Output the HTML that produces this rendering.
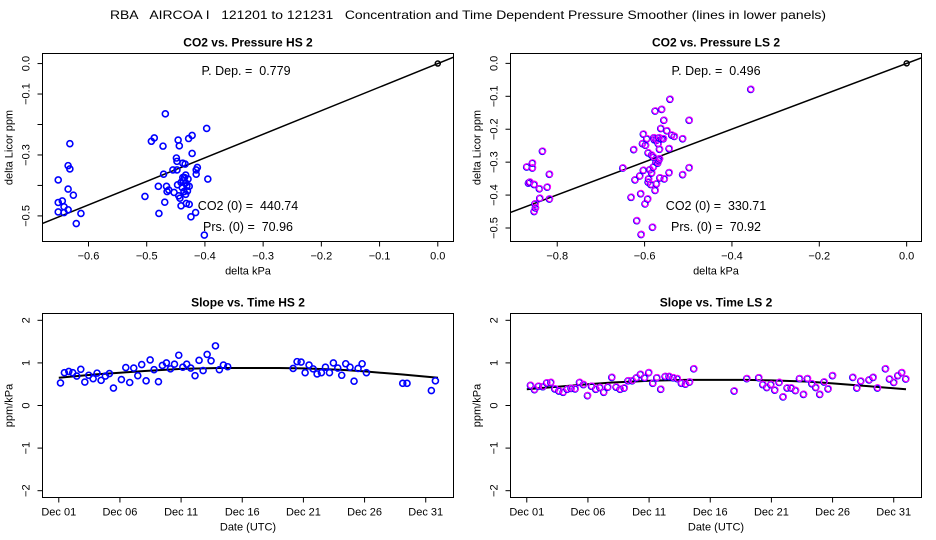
<!DOCTYPE html>
<html><head><meta charset="utf-8"><style>
html,body{margin:0;padding:0;background:#fff;}
svg{display:block;font-family:"Liberation Sans",sans-serif;white-space:pre;}
</style></head><body>
<svg id="chart" width="936" height="540" viewBox="0 0 936 540" xmlns="http://www.w3.org/2000/svg">
<rect width="936" height="540" fill="#fff"/>
<text x="468" y="19" text-anchor="middle" font-size="12" textLength="716" lengthAdjust="spacingAndGlyphs">RBA&#160;&#160; AIRCOA I&#160;&#160; 121201 to 121231&#160;&#160; Concentration and Time Dependent Pressure Smoother (lines in lower panels)</text>
</svg>
<script>
// ---- Data: HS scatter ----
const hsX = [-0.652,-0.652,-0.652,-0.645,-0.642,-0.642,-0.635,-0.635,-0.635,-0.632,-0.632,-0.626,-0.621,-0.613,-0.503,-0.492,-0.487,-0.480,-0.479,-0.472,-0.471,-0.469,-0.468,-0.466,-0.465,-0.462,-0.455,-0.453,-0.449,-0.448,-0.448,-0.447,-0.446,-0.445,-0.444,-0.443,-0.441,-0.441,-0.438,-0.438,-0.436,-0.435,-0.434,-0.433,-0.433,-0.432,-0.431,-0.430,-0.429,-0.428,-0.427,-0.427,-0.424,-0.422,-0.422,-0.416,-0.415,-0.415,-0.413,-0.401,-0.397,-0.395,-0.439,-0.437,-0.433];
const hsY = [-0.382,-0.456,-0.487,-0.451,-0.470,-0.489,-0.480,-0.412,-0.335,-0.346,-0.263,-0.432,-0.525,-0.492,-0.436,-0.255,-0.244,-0.403,-0.492,-0.271,-0.363,-0.455,-0.165,-0.403,-0.420,-0.415,-0.349,-0.423,-0.310,-0.321,-0.349,-0.398,-0.251,-0.434,-0.270,-0.442,-0.467,-0.390,-0.327,-0.374,-0.420,-0.374,-0.330,-0.366,-0.429,-0.459,-0.402,-0.418,-0.379,-0.246,-0.403,-0.462,-0.503,-0.236,-0.295,-0.489,-0.363,-0.349,-0.341,-0.563,-0.213,-0.379,-0.407,-0.385,-0.392];
const hsSlope = [0.773];
// ---- Data: LS scatter ----
const lsX = [-0.870,-0.866,-0.863,-0.857,-0.857,-0.853,-0.853,-0.851,-0.850,-0.841,-0.840,-0.834,-0.823,-0.818,-0.818,-0.650,-0.631,-0.625,-0.622,-0.618,-0.609,-0.608,-0.611,-0.605,-0.603,-0.603,-0.599,-0.598,-0.595,-0.593,-0.592,-0.591,-0.588,-0.586,-0.584,-0.582,-0.580,-0.579,-0.578,-0.576,-0.576,-0.574,-0.573,-0.573,-0.570,-0.569,-0.568,-0.567,-0.566,-0.565,-0.563,-0.561,-0.561,-0.557,-0.556,-0.555,-0.549,-0.544,-0.544,-0.542,-0.538,-0.532,-0.513,-0.513,-0.498,-0.498,-0.357,-0.592,-0.584,-0.580,-0.566];
const lsY = [-0.315,-0.364,-0.361,-0.318,-0.303,-0.368,-0.450,-0.427,-0.439,-0.381,-0.410,-0.267,-0.376,-0.337,-0.412,-0.318,-0.407,-0.262,-0.354,-0.478,-0.396,-0.520,-0.342,-0.244,-0.325,-0.215,-0.427,-0.249,-0.229,-0.412,-0.361,-0.351,-0.323,-0.368,-0.333,-0.498,-0.315,-0.226,-0.232,-0.386,-0.145,-0.300,-0.366,-0.234,-0.303,-0.244,-0.295,-0.226,-0.261,-0.348,-0.198,-0.140,-0.229,-0.229,-0.173,-0.351,-0.205,-0.259,-0.332,-0.109,-0.218,-0.222,-0.338,-0.229,-0.173,-0.317,-0.079,-0.272,-0.279,-0.285,-0.290];
const lsSlope = [0.499];
// ---- Data: HS time series ----
const hsDay = [1.14,1.46,1.82,2.14,2.47,2.80,3.13,3.45,3.81,4.13,4.46,4.81,5.14,5.47,6.12,6.48,6.80,7.13,7.46,7.78,8.14,8.47,8.79,9.15,9.47,9.80,10.13,10.46,10.81,11.14,11.46,11.79,12.14,12.47,12.80,13.13,13.45,13.81,14.13,14.46,14.81,20.16,20.48,20.81,21.14,21.46,21.79,22.12,22.47,22.80,23.13,23.45,23.81,24.13,24.46,24.81,25.14,25.47,25.80,26.15,29.12,29.47,31.46,31.79];
const hsSlopeVal = [0.53,0.77,0.80,0.77,0.69,0.85,0.55,0.71,0.63,0.76,0.59,0.69,0.75,0.41,0.61,0.89,0.54,0.88,0.70,0.96,0.58,1.07,0.84,0.56,0.94,1.00,0.86,0.97,1.18,0.90,0.97,0.88,0.70,1.06,0.82,1.20,1.05,1.40,0.84,0.95,0.91,0.87,1.03,1.02,0.77,0.95,0.86,0.74,0.77,0.90,0.77,1.00,0.88,0.71,0.98,0.90,0.57,0.87,0.98,0.77,0.52,0.52,0.35,0.58];
const hsSmDay = [1,4,6,8,11,14,16,19,21,24,26,29,32];
const hsSmVal = [0.65,0.73,0.77,0.81,0.86,0.88,0.88,0.88,0.87,0.84,0.80,0.73,0.65];
// ---- Data: LS time series ----
const lsDay = [1.30,1.63,1.95,2.31,2.63,2.96,3.29,3.62,3.97,4.30,4.62,4.95,5.31,5.63,5.96,6.29,6.64,6.97,7.29,7.62,7.95,8.30,8.63,8.96,9.28,9.61,9.96,10.29,10.62,10.97,11.30,11.63,11.95,12.31,12.63,12.96,13.29,13.64,13.97,14.30,14.65,17.95,18.98,19.96,20.29,20.62,20.95,21.27,21.63,21.95,22.28,22.61,22.96,23.29,23.62,23.94,24.30,24.62,24.95,25.30,25.63,25.99,27.65,27.98,28.30,28.98,29.31,29.66,30.32,30.65,31.00,31.33,31.65,31.98];
const lsSlopeVal = [0.47,0.37,0.45,0.44,0.53,0.54,0.39,0.34,0.31,0.38,0.40,0.39,0.54,0.49,0.23,0.45,0.38,0.42,0.31,0.43,0.66,0.43,0.38,0.41,0.58,0.58,0.65,0.73,0.65,0.77,0.52,0.65,0.38,0.68,0.68,0.65,0.63,0.52,0.50,0.55,0.86,0.34,0.63,0.65,0.49,0.42,0.49,0.36,0.54,0.20,0.41,0.41,0.35,0.63,0.26,0.63,0.51,0.42,0.26,0.55,0.39,0.70,0.66,0.41,0.57,0.60,0.66,0.41,0.86,0.62,0.54,0.70,0.77,0.62];
const lsSmDay = [1,4,6,8,11,14,16,19,21,24,26,29,32];
const lsSmVal = [0.38,0.45,0.50,0.54,0.58,0.60,0.60,0.60,0.59,0.56,0.52,0.45,0.38];

const NS='http://www.w3.org/2000/svg';
const svg=document.getElementById('chart');
function el(tag,attrs,parent){const e=document.createElementNS(NS,tag);for(const k in attrs)e.setAttribute(k,attrs[k]);(parent||svg).appendChild(e);return e;}
function lin(d0,d1,r0,r1){return v=>r0+(v-d0)*(r1-r0)/(d1-d0);}

function panel(o){
  const g=el('g',{});
  
  
  const X=lin(o.xd[0],o.xd[1],o.box[0],o.box[2]);
  const Y=lin(o.yd[0],o.yd[1],o.box[3],o.box[1]);
  const t=el('text',{x:(o.box[0]+o.box[2])/2,y:o.box[1]-7,'text-anchor':'middle','font-size':12,'font-weight':'bold'},g);
  t.textContent=o.title;
  
  
  const clip='c'+o.id;
  const cp=el('clipPath',{id:clip},g);
  el('rect',{x:o.box[0],y:o.box[1],width:o.box[2]-o.box[0],height:o.box[3]-o.box[1]},cp);
  o.xt.forEach((v,i)=>{const x=X(v);
    el('line',{x1:x,x2:x,y1:o.box[3],y2:o.box[3]+5,stroke:'#000','stroke-width':1},g);
    const lt=el('text',{x:x,y:o.box[3]+18,'text-anchor':'middle','font-size':11},g);
    lt.textContent=o.xl[i];
    
    
  });
  o.yt.forEach((v,i)=>{const y=Y(v);
    el('line',{x1:o.box[0]-5,x2:o.box[0],y1:y,y2:y,stroke:'#000','stroke-width':1},g);
    if(o.yl[i]!==''){
      const lt=el('text',{x:o.box[0]-13,y:y,'text-anchor':'middle','font-size':11,transform:`rotate(-90 ${o.box[0]-13} ${y})`},g);
      lt.textContent=o.yl[i];
      
      
    }
  });
  const xa=el('text',{x:(o.box[0]+o.box[2])/2,y:o.box[3]+33,'text-anchor':'middle','font-size':11},g);
  xa.textContent=o.xlab;
  
  
  const yc=(o.box[1]+o.box[3])/2, yx=o.box[0]-30;
  const ya=el('text',{x:yx,y:yc,'text-anchor':'middle','font-size':11,transform:`rotate(-90 ${yx} ${yc})`},g);
  ya.textContent=o.ylab;
  
  
  const pg=el('g',{'clip-path':`url(#${clip})`},g);
  if(o.lineSlope){
    const s=o.lineSlope[0];
    const ln=el('line',{x1:X(o.xd[0]),y1:Y(s*o.xd[0]),x2:X(o.xd[1]),y2:Y(s*o.xd[1]),stroke:'#000','stroke-width':1.5},pg);
    
    
    const oc=el('circle',{cx:X(0),cy:Y(0),r:2.5,fill:'none',stroke:'#000','stroke-width':1.5},pg);
    
    
  }
  if(o.smX){
    const d=o.smX.map((v,i)=>(i?'L':'M')+X(v).toFixed(1)+','+Y(o.smY[i]).toFixed(1)).join(' ');
    const p=el('path',{d:d,fill:'none',stroke:'#000','stroke-width':2},pg);
    
    
  }
  o.px.forEach((v,i)=>{
    const c=el('circle',{cx:X(v),cy:Y(o.py[i]),r:3,fill:'none',stroke:'#0000ff','stroke-width':1.6},pg);
    
    
    if(o.magenta){
      const c2=el('circle',{cx:X(v)+0.4,cy:Y(o.py[i])-0.4,r:3,fill:'none',stroke:'#ff00ff','stroke-width':1.1},pg);
      
      
    }
  });
  (o.notes||[]).forEach(n=>{
    const nt=el('text',{x:n[0],y:n[1],'text-anchor':'middle','font-size':12.5},g);
    nt.textContent=n[2];
    
    
  });
  const fr=el('rect',{x:o.box[0],y:o.box[1],width:o.box[2]-o.box[0],height:o.box[3]-o.box[1],fill:'none',stroke:'#000','stroke-width':1},g);
  
  
}

panel({id:1,name:'panel-co2-pressure-hs',title:'CO2 vs. Pressure HS 2',box:[42.5,53.5,453.5,241.5],
  xd:[-0.679,0.027],yd:[-0.584,0.033],
  xt:[-0.6,-0.5,-0.4,-0.3,-0.2,-0.1,0],xl:['\u22120.6','\u22120.5','\u22120.4','\u22120.3','\u22120.2','\u22120.1','0.0'],
  yt:[0,-0.1,-0.2,-0.3,-0.4,-0.5],yl:['0.0','\u22120.1','','\u22120.3','','\u22120.5'],
  xlab:'delta kPa',ylab:'delta Licor ppm',px:hsX,py:hsY,lineSlope:hsSlope,
  notes:[[246,75,'P. Dep. =\u00a0 0.779'],[248,210,'CO2 (0) =\u00a0 440.74'],[248,231,'Prs. (0) =\u00a0 70.96']]});
panel({id:2,name:'panel-co2-pressure-ls',title:'CO2 vs. Pressure LS 2',box:[510.5,53.5,921.5,241.5],
  xd:[-0.907,0.034],yd:[-0.541,0.030],
  xt:[-0.8,-0.6,-0.4,-0.2,0],xl:['\u22120.8','\u22120.6','\u22120.4','\u22120.2','0.0'],
  yt:[0,-0.1,-0.2,-0.3,-0.4,-0.5],yl:['0.0','\u22120.1','\u22120.2','\u22120.3','\u22120.4','\u22120.5'],
  xlab:'delta kPa',ylab:'delta Licor ppm',px:lsX,py:lsY,lineSlope:lsSlope,magenta:true,
  notes:[[716,75,'P. Dep. =\u00a0 0.496'],[716,210,'CO2 (0) =\u00a0 330.71'],[716,231,'Prs. (0) =\u00a0 70.92']]});
const dayT=[1,6,11,16,21,26,31], dayL=['Dec 01','Dec 06','Dec 11','Dec 16','Dec 21','Dec 26','Dec 31'];
panel({id:3,name:'panel-slope-time-hs',title:'Slope vs. Time HS 2',box:[42.5,313.5,453.5,497.5],
  xd:[-0.33,33.27],yd:[-2.16,2.16],xt:dayT,xl:dayL,
  yt:[2,1,0,-1,-2],yl:['2','1','0','\u22121','\u22122'],
  xlab:'Date (UTC)',ylab:'ppm/kPa',px:hsDay,py:hsSlopeVal,smX:hsSmDay,smY:hsSmVal});
panel({id:4,name:'panel-slope-time-ls',title:'Slope vs. Time LS 2',box:[510.5,313.5,921.5,497.5],
  xd:[-0.33,33.27],yd:[-2.16,2.16],xt:dayT,xl:dayL,
  yt:[2,1,0,-1,-2],yl:['2','1','0','\u22121','\u22122'],
  xlab:'Date (UTC)',ylab:'ppm/kPa',px:lsDay,py:lsSlopeVal,smX:lsSmDay,smY:lsSmVal,magenta:true});
</script>
</body></html>
